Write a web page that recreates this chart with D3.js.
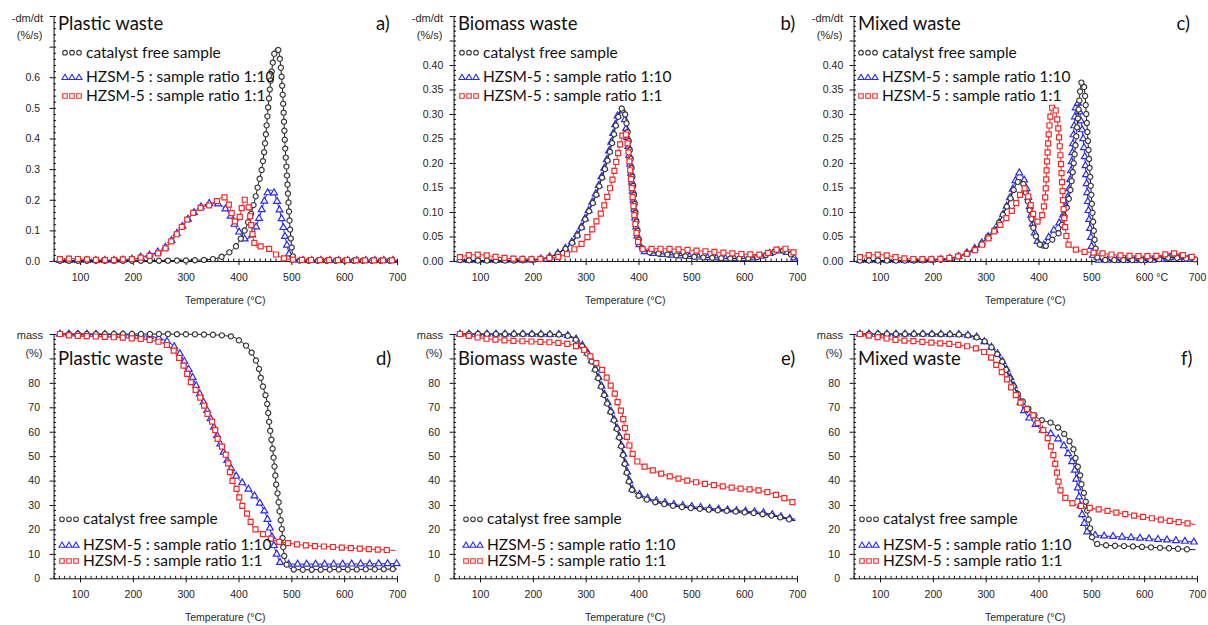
<!DOCTYPE html>
<html><head><meta charset="utf-8">
<script src="https://cdn.jsdelivr.net/npm/d3@7"></script>
<style>body{margin:0;background:#fff}svg{display:block}</style>
</head><body>
<svg id="chart" width="1208" height="625"></svg>
<script>
// ---------- DATA (temperature °C, value) ----------
const tempTicks = [100, 200, 300, 400, 500, 600, 700];
const tempMinor = d3.range(50, 701, 10);
const seriesNames = ["catalyst free sample", "HZSM-5 : sample ratio 1:10", "HZSM-5 : sample ratio 1:1"];
const panelTitles = ["Plastic waste", "Biomass waste", "Mixed waste", "Plastic waste", "Biomass waste", "Mixed waste"];
const panelLetters = ["a)", "b)", "c)", "d)", "e)", "f)"];
const dtgTicksA = [0, 0.1, 0.2, 0.3, 0.4, 0.5, 0.6, 0.7, 0.8];
const dtgTicksBC = [0, 0.05, 0.1, 0.15, 0.2, 0.25, 0.3, 0.35, 0.4, 0.45, 0.5];
const massTicks = [0, 10, 20, 30, 40, 50, 60, 70, 80, 90, 100];

// a) Plastic waste DTG
const dtgPlasticFree = [[62,0.001],[150,0.001],[250,0.001],[300,0.002],[340,0.004],[359,0.009],[371,0.016],[384,0.03],[397,0.052],[409,0.09],[422,0.145],[431,0.2],[438,0.254],[444,0.3],[450,0.38],[456,0.5],[461,0.59],[466,0.66],[471,0.695],[475,0.69],[479,0.65],[482,0.59],[485,0.5],[488,0.38],[491,0.3],[494,0.21],[497,0.12],[500,0.055],[503,0.015],[508,0.003],[520,0.001],[700,0.001]];
const dtgPlastic110 = [[62,0.002],[100,0.002],[150,0.002],[200,0.006],[214,0.012],[239,0.024],[258,0.04],[270,0.06],[280,0.083],[290,0.105],[300,0.127],[310,0.148],[320,0.165],[330,0.178],[340,0.186],[352,0.19],[362,0.186],[371,0.177],[384,0.15],[393,0.118],[403,0.09],[412,0.072],[420,0.075],[427,0.088],[433,0.11],[440,0.145],[447,0.185],[453,0.215],[460,0.232],[466,0.226],[472,0.2],[477,0.17],[482,0.135],[488,0.08],[494,0.036],[499,0.005],[520,0.002],[700,0.002]];
const dtgPlastic11 = [[62,0.006],[84,0.008],[100,0.006],[120,0.005],[140,0.003],[160,0.003],[180,0.005],[200,0.006],[214,0.011],[230,0.016],[245,0.023],[258,0.035],[270,0.058],[280,0.08],[290,0.105],[300,0.128],[310,0.15],[320,0.165],[330,0.175],[340,0.18],[352,0.186],[362,0.2],[368,0.208],[375,0.208],[380,0.192],[385,0.168],[390,0.14],[396,0.125],[402,0.142],[407,0.178],[412,0.2],[417,0.188],[421,0.16],[425,0.105],[429,0.065],[435,0.045],[444,0.048],[456,0.042],[465,0.03],[472,0.02],[485,0.009],[500,0.005],[550,0.003],[700,0.002]];

// b) Biomass waste DTG
const dtgBiomassFree = [[62,0.002],[100,0.001],[150,0.001],[200,0.002],[220,0.005],[240,0.011],[255,0.02],[270,0.032],[280,0.045],[290,0.063],[300,0.087],[310,0.11],[320,0.135],[330,0.167],[340,0.2],[350,0.241],[358,0.28],[365,0.305],[371,0.313],[375,0.298],[380,0.258],[385,0.21],[390,0.152],[395,0.09],[400,0.048],[405,0.03],[410,0.022],[420,0.018],[450,0.014],[500,0.009],[550,0.006],[600,0.005],[620,0.007],[640,0.012],[655,0.018],[668,0.022],[680,0.02],[690,0.012],[698,0.004]];
const dtgBiomass110 = [[62,0.002],[100,0.001],[200,0.002],[220,0.005],[240,0.012],[255,0.021],[270,0.034],[280,0.048],[290,0.066],[300,0.09],[310,0.114],[320,0.14],[330,0.172],[340,0.207],[350,0.25],[358,0.288],[364,0.305],[369,0.308],[374,0.29],[379,0.25],[384,0.2],[389,0.145],[394,0.085],[399,0.045],[405,0.026],[410,0.02],[420,0.017],[450,0.013],[500,0.009],[550,0.006],[600,0.005],[620,0.007],[640,0.012],[655,0.018],[668,0.021],[680,0.018],[690,0.01],[700,0.002]];
const dtgBiomass11 = [[62,0.008],[80,0.012],[100,0.013],[120,0.01],[140,0.007],[160,0.005],[200,0.004],[230,0.006],[250,0.009],[265,0.014],[280,0.025],[290,0.033],[300,0.044],[310,0.06],[320,0.08],[330,0.1],[340,0.128],[350,0.163],[360,0.213],[367,0.245],[373,0.265],[378,0.25],[383,0.2],[388,0.14],[393,0.085],[398,0.045],[403,0.028],[410,0.024],[430,0.025],[450,0.025],[500,0.022],[550,0.018],[600,0.014],[630,0.013],[650,0.018],[665,0.024],[680,0.025],[690,0.02],[697,0.015]];

// c) Mixed waste DTG
const dtgMixedFree = [[62,0.001],[150,0.001],[200,0.002],[230,0.004],[250,0.01],[270,0.018],[290,0.033],[300,0.045],[321,0.07],[335,0.1],[347,0.128],[357,0.155],[366,0.166],[372,0.155],[378,0.13],[385,0.095],[392,0.06],[400,0.04],[407,0.026],[414,0.031],[428,0.046],[441,0.063],[450,0.095],[456,0.12],[460,0.142],[466,0.193],[471,0.248],[476,0.31],[479,0.35],[483,0.368],[487,0.35],[491,0.29],[495,0.22],[499,0.15],[503,0.085],[507,0.035],[511,0.008],[518,0.002],[600,0.002],[630,0.004],[650,0.007],[670,0.006],[690,0.004],[700,0.003]];
const dtgMixed110 = [[62,0.001],[150,0.001],[200,0.002],[230,0.005],[250,0.01],[270,0.02],[290,0.034],[300,0.045],[321,0.07],[335,0.1],[347,0.132],[357,0.166],[363,0.18],[368,0.176],[373,0.165],[378,0.145],[385,0.1],[390,0.07],[397,0.043],[403,0.031],[409,0.032],[416,0.043],[425,0.057],[434,0.07],[444,0.087],[450,0.105],[454,0.125],[460,0.166],[464,0.22],[467.5,0.275],[470,0.31],[473,0.326],[477,0.31],[481,0.28],[485,0.245],[488,0.207],[491.5,0.152],[495,0.098],[499,0.05],[502,0.016],[507,0.002],[600,0.001],[640,0.004],[655,0.008],[670,0.006],[690,0.003],[700,0.002]];
const dtgMixed11 = [[62,0.008],[80,0.012],[100,0.013],[120,0.01],[140,0.006],[170,0.004],[200,0.004],[230,0.006],[250,0.01],[270,0.017],[290,0.03],[300,0.04],[320,0.065],[341,0.09],[355,0.112],[365,0.135],[372,0.149],[378,0.14],[385,0.115],[392,0.09],[400,0.08],[406,0.09],[410,0.11],[413,0.135],[416,0.2],[421,0.28],[425,0.31],[429,0.318],[433,0.305],[437,0.275],[442,0.207],[445,0.152],[448,0.098],[452,0.057],[457,0.033],[466,0.026],[485,0.019],[516,0.016],[550,0.012],[600,0.01],[630,0.011],[650,0.016],[665,0.014],[680,0.01],[700,0.007]];

// d) Plastic waste TG
const massPlasticFree = [[62,100],[150,100],[250,100],[300,99.9],[350,99.7],[375,99.3],[390,98.8],[398,97.8],[410.6,96],[422,93.3],[431.5,89.8],[438,86.4],[444,80.2],[448.5,76.8],[454,72],[459,62],[464,54],[468,46],[471,39],[475,33],[478,27],[482,20],[485,12],[490,6],[499,4],[510,3.5],[600,3.6],[700,3.8]];
const massPlastic110 = [[62,100],[150,99.8],[200,99.5],[240,98.8],[261,97.4],[275,95.5],[286,92.9],[299,88.2],[311.6,83],[324,76.8],[337,70.6],[350,63.8],[362,57],[375,50],[387,44.6],[398,41.2],[412,38],[422,35.7],[433,33],[442,30.2],[452,26],[460,20],[467.5,13],[474,9],[480,6.2],[490,5.8],[550,5.8],[700,6]];
const massPlastic11 = [[62,100],[80,99.4],[100,99.2],[150,98.8],[200,98.2],[240,97.2],[262,95.8],[273.6,94],[292.5,88.5],[311.5,79.6],[324,75.4],[333.6,71.3],[343,66.5],[352.5,63],[362,56.2],[371.5,52.8],[381,46.6],[384,43.2],[396.6,36.4],[406,30.2],[415.6,26.7],[428,21],[440,19],[456,16.8],[472,15.2],[490,14.5],[517,13.7],[580,12.8],[643,12],[697,11.4]];

// e) Biomass waste TG
const massBiomassFree = [[62,100],[150,100],[250,99.8],[270,99],[285,97],[300,93],[315,87],[327.6,79.6],[340,72],[353,65],[362,59],[368.6,52.8],[375,46],[381,40.5],[387,36.4],[397,34.3],[413,32.5],[453,30.2],[517,28.4],[580,27.4],[643,26],[674,24.7],[697,23.6]];
const massBiomass110 = [[62,100],[150,100],[250,99.8],[270,99.2],[285,97.4],[300,93.5],[315,87.5],[327.6,80.2],[340,72.6],[353,65.6],[362,59.6],[368.6,53.5],[375,47],[381,41.5],[387,37],[397,35],[413,33.2],[453,30.8],[517,29],[580,27.8],[643,26.6],[674,25],[697,24.2]];
const massBiomass11 = [[62,100],[80,99.2],[100,98.4],[130,97.7],[160,97.2],[200,96.9],[250,96.3],[280,95.2],[300,93],[316,89],[327,86.4],[337,83.4],[344,80],[353,76.8],[358,73.7],[363,70.4],[369,67.2],[373,63],[376,59.7],[381,55.6],[391,50],[400,47.3],[416,45.3],[441,43],[472,41],[517,39],[580,37],[643,35.3],[674,33],[697,30.6]];

// f) Mixed waste TG
const massMixedFree = [[62,100],[150,100],[250,99.8],[270,99.3],[290,98],[300,96.7],[321,92],[333.6,87.8],[343,83],[352,79],[365,74],[375,71],[387,68],[397,65.8],[409,64.5],[422,63.8],[432.7,62.4],[444,60.4],[453.6,57.6],[462,54.9],[468,51.4],[472,47.3],[478,43.2],[482,37.7],[487.6,33.6],[492,28],[496,22.6],[501,17],[507.6,14.4],[520,13.7],[583,13],[646,12.3],[697,11.7]];
const massMixed110 = [[62,100],[150,100],[250,99.8],[280,99],[300,96.5],[321,92.3],[335,87.5],[345,83],[355,78],[364,73],[371,69.3],[378,66.8],[391,63.8],[400,61.7],[414,60],[428,58.6],[441,56.2],[452,52.8],[461,48.7],[467.6,45.5],[472.7,39],[477.8,32.2],[482,26.7],[486.5,22.6],[491.5,19.2],[501,17.8],[550,17],[600,16.3],[650,15.6],[697,14.8]];
const massMixed11 = [[62,100],[80,99.3],[100,98.6],[130,97.6],[160,97.1],[200,96.4],[250,95.5],[275,94.5],[289.5,93.5],[300,92.2],[311.7,90],[321,87],[330.6,84.4],[340,81.6],[348,78.2],[356,75.4],[365.6,72],[378,69.3],[391,66.5],[400,63],[409.7,60.4],[417,57.6],[423.6,53.9],[428.6,50],[434.9,43.2],[441,36.4],[450.6,33],[463,30.9],[482,29.5],[517,28.1],[580,25.7],[643,23.7],[697,22]];

// ---------- LAYOUT / STYLE ----------
const svg = d3.select("#chart");
const colX = [0, 400, 800];
const rowGeom = [{y0: 261, y1: 16, legendY: [52.7, 77.3, 96], titleY: 30, yl1: "-dm/dt", yl2: "(%/s)", yl1Y: 22, yl2Y: 39},
                 {y0: 578.3, y1: 334, legendY: [519.3, 545, 561], titleY: 364.5, yl1: "mass", yl2: "(%)", yl1Y: 338.5, yl2Y: 357}];
// style index: 0 = 1:10 (blue triangles), 1 = free (black circles), 2 = 1:1 (red squares)
const styles = [
  {color: "#2b2bf0", line: "#2020ff", sym: d3.symbolTriangle, size: 20},
  {color: "#3a3a3a", line: "#1a1a1a", sym: d3.symbolCircle, size: 21},
  {color: "#f02a2a", line: "#ff2020", sym: d3.symbolSquare, size: 25}
];
const panels = [
  {row:0, col:0, yMax:0.8, ticks:dtgTicksA, minorStep:0.02, maxLabel:0.6, fmt:d3.format(".1f"), pad:9.6, legX:86, letterX:376, data:[dtgPlasticFree, dtgPlastic110, dtgPlastic11]},
  {row:0, col:1, yMax:0.5, ticks:dtgTicksBC, minorStep:0.01, maxLabel:0.4, fmt:d3.format(".2f"), pad:6.3, legX:83, letterX:380.5, data:[dtgBiomassFree, dtgBiomass110, dtgBiomass11]},
  {row:0, col:2, yMax:0.5, ticks:dtgTicksBC, minorStep:0.01, maxLabel:0.4, fmt:d3.format(".2f"), pad:6.3, legX:82, letterX:376.5, data:[dtgMixedFree, dtgMixed110, dtgMixed11], degLabel:600},
  {row:1, col:0, yMax:100, ticks:massTicks, minorStep:2, maxLabel:80, fmt:d3.format("d"), pad:9.6, legX:83, letterX:376, data:[massPlasticFree, massPlastic110, massPlastic11]},
  {row:1, col:1, yMax:100, ticks:massTicks, minorStep:2, maxLabel:80, fmt:d3.format("d"), pad:9.6, legX:87, letterX:381, data:[massBiomassFree, massBiomass110, massBiomass11]},
  {row:1, col:2, yMax:100, ticks:massTicks, minorStep:2, maxLabel:80, fmt:d3.format("d"), pad:9.6, legX:83, letterX:381, data:[massMixedFree, massMixed110, massMixed11]}
];

const tickFont = "'Liberation Sans', Arial, sans-serif";
const textFont = "Lato, 'Open Sans', sans-serif";
// draw order: [data index, style index]
const drawOrder = [[1, 0], [0, 1], [2, 2]];

panels.forEach((p, i) => {
  const ox = colX[p.col];
  const rg = rowGeom[p.row];
  const g = svg.append("g");
  const x = d3.scaleLinear().domain([50, 700]).range([ox + 53.6, ox + 397]);
  const y = d3.scaleLinear().domain([0, p.yMax]).range([rg.y0, rg.y1]);

  // minor ticks (inside)
  const minorY = d3.range(0, p.yMax + 1e-9, p.minorStep);
  g.append("g").attr("transform", `translate(${x(50)},0)`)
    .call(d3.axisLeft(y).tickValues(minorY).tickSize(-2.5).tickSizeOuter(0).tickFormat(""))
    .call(a => a.select(".domain").remove());
  g.append("g").attr("transform", `translate(0,${rg.y0})`)
    .call(d3.axisBottom(x).tickValues(tempMinor).tickSize(-2.5).tickSizeOuter(0).tickFormat(""))
    .call(a => a.select(".domain").remove());

  // major y axis
  g.append("g").attr("transform", `translate(${x(50)},0)`)
    .call(d3.axisLeft(y).tickValues(p.ticks).tickSize(4).tickSizeOuter(0).tickPadding(p.pad)
      .tickFormat(d => d <= p.maxLabel + 1e-9 ? p.fmt(d) : ""))
    .call(a => a.selectAll("text").attr("font-family", tickFont).attr("font-size", 10.5).attr("fill", "#1e1e1e"));
  // major x axis
  const xa = g.append("g").attr("transform", `translate(0,${rg.y0})`)
    .call(d3.axisBottom(x).tickValues(tempTicks).tickSize(4).tickSizeOuter(0).tickPadding(8.5)
      .tickFormat(d => d === p.degLabel ? d + " °C" : d));
  xa.selectAll("text").attr("font-family", tickFont).attr("font-size", 10.5).attr("fill", "#1e1e1e");
  if (p.degLabel) {
    xa.selectAll(".tick").filter(d => d === p.degLabel).select("text").attr("text-anchor", "start").attr("x", -8.8);
  }
  g.selectAll(".domain, .tick line").attr("stroke", "#111");

  // axis titles
  g.append("text").attr("x", (x(50) + x(700)) / 2).attr("y", rg.y0 + 42.5).attr("text-anchor", "middle")
    .attr("font-family", tickFont).attr("font-size", 10.5).attr("fill", "#2a2a2a").text("Temperature (°C)");
  g.append("text").attr("x", ox + 43).attr("y", rg.yl1Y).attr("text-anchor", "end")
    .attr("font-family", tickFont).attr("font-size", 11).attr("fill", "#2a2a2a").text(rg.yl1);
  g.append("text").attr("x", ox + 42.5).attr("y", rg.yl2Y).attr("text-anchor", "end")
    .attr("font-family", tickFont).attr("font-size", 11).attr("fill", "#2a2a2a").text(rg.yl2);

  // panel title + letter
  g.append("text").attr("x", ox + 58).attr("y", rg.titleY).attr("font-family", textFont)
    .attr("font-size", 18.5).attr("fill", "#111").text(panelTitles[i]);
  g.append("text").attr("x", ox + p.letterX).attr("y", rg.titleY).attr("font-family", textFont)
    .attr("font-size", 18.5).attr("fill", "#111").text(panelLetters[i]);

  // series: line + markers placed at equal arc length along the drawn path
  const line = d3.line().x(d => x(d[0])).y(d => y(d[1])).curve(d3.curveMonotoneX);
  drawOrder.forEach(([di, si]) => {
    const st = styles[si];
    const path = g.append("path").datum(p.data[di]).attr("d", line)
      .attr("fill", "none").attr("stroke", st.line).attr("stroke-width", 1);
    const node = path.node();
    const len = node.getTotalLength();
    const pts = [];
    for (let l = 0; l <= len; l += 9) { const pt = node.getPointAtLength(l); pts.push([pt.x, pt.y]); }
    g.append("g").selectAll("path").data(pts).join("path")
      .attr("transform", d => `translate(${d[0]},${d[1]})`)
      .attr("d", d3.symbol().type(st.sym).size(st.size))
      .attr("fill", "#fff").attr("stroke", st.color).attr("stroke-width", 1.2);
  });

  // legend
  const legOrder = [[0, 1], [1, 0], [2, 2]]; // [series name idx, style idx]
  legOrder.forEach(([ni, sIdx], r) => {
    const st = styles[sIdx];
    const ly = rg.legendY[r];
    [-21, -14, -7].forEach(dx => {
      g.append("path").attr("transform", `translate(${ox + p.legX + dx},${ly + (sIdx === 0 ? 0.5 : 0)})`)
        .attr("d", d3.symbol().type(st.sym).size(st.size * 0.8))
        .attr("fill", "#fff").attr("stroke", st.color).attr("stroke-width", 1.1);
    });
    g.append("text").attr("x", ox + p.legX).attr("y", ly + 5).attr("font-family", textFont)
      .attr("font-size", 15.5).attr("fill", "#111").text(seriesNames[ni]);
  });
});
</script>
</body></html>
